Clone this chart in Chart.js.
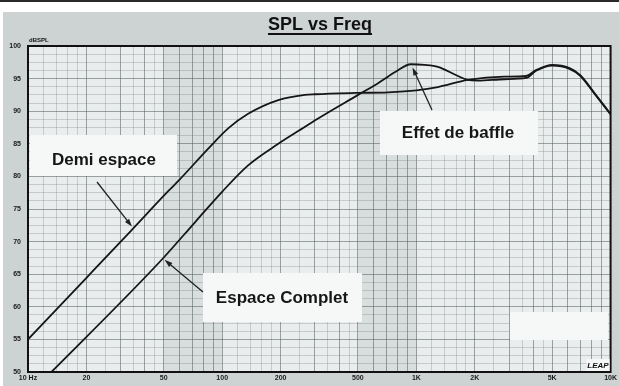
<!DOCTYPE html>
<html>
<head>
<meta charset="utf-8">
<script src="https://cdn.jsdelivr.net/npm/chart.js@4/dist/chart.umd.min.js"></script>
<style>
  html, body { margin: 0; padding: 0; background: #ffffff; overflow: hidden; }
  #wrap { position: relative; width: 619px; height: 386px; }
</style>
</head>
<body>
<div id="wrap"><canvas id="spl" width="619" height="386"></canvas></div>
<script>
// Half-space response (driver on an infinite baffle)
const demiFreq = [10, 20, 34, 53, 60.3, 85, 107.7, 136, 194.5, 267, 301, 484, 714, 1000, 1291, 1841, 2838, 3680, 4130, 5000, 6150, 7000, 8300, 10000];
const demiSpl  = [55.0, 64.45, 71.7, 77.8, 79.5, 84.3, 87.4, 89.6, 91.7, 92.5, 92.6, 92.8, 92.9, 93.2, 93.7, 94.8, 95.3, 95.4, 96.3, 97.1, 96.6, 95.5, 92.7, 89.6];

// Full-space response (free field, showing the baffle step)
const completFreq = [10, 13.2, 48.4, 72.6, 99.6, 136, 194.5, 267, 301, 501, 635, 714, 777, 937, 1100, 1291, 1637, 1841, 2070, 2838, 3680, 4130, 5000, 6150, 7000, 8300, 10000];
const completSpl  = [46.4, 50.0, 67.1, 73.0, 77.6, 81.7, 85.0, 87.6, 88.6, 92.5, 94.3, 95.3, 96.0, 97.2, 97.1, 96.8, 95.4, 94.8, 94.7, 94.9, 95.1, 96.2, 97.0, 96.5, 95.4, 92.6, 89.5];

// Frequency axis: labelled decades and the printed grid divisions
const freqLabels = { 10: '10 Hz', 20: '20', 50: '50', 100: '100', 200: '200', 500: '500', 1000: '1K', 2000: '2K', 5000: '5K', 10000: '10K' };
const freqGrid = [10, 12, 14, 16, 18, 20, 25, 30, 35, 40, 45, 50, 60, 70, 80, 90,
                  100, 120, 140, 160, 180, 200, 250, 300, 350, 400, 450, 500, 600, 700, 800, 900,
                  1000, 1200, 1400, 1600, 1800, 2000, 2500, 3000, 3500, 4000, 4500, 5000, 6000, 7000, 8000, 9000, 10000];
// Level axis: labelled every 5 dB, grid every 1.25 dB
const splLabels = [50, 55, 60, 65, 70, 75, 80, 85, 90, 95, 100];
const splGrid = [];
for (let v = 50; v <= 100.001; v += 1.25) splGrid.push(Math.round(v * 100) / 100);

const FONT = '"Liberation Sans", Arial, sans-serif';

const isMainFreq = v => {
  const m = v / Math.pow(10, Math.floor(Math.log10(v) + 1e-9));
  return Math.abs(m - Math.round(m)) < 1e-6;
};

// Panel, plot background and shaded bands
const backdrop = {
  id: 'backdrop',
  beforeDraw(chart) {
    const { ctx, chartArea: a, scales: { x } } = chart;
    ctx.save();
    ctx.fillStyle = '#ffffff';
    ctx.fillRect(0, 0, chart.width, chart.height);
    ctx.fillStyle = '#2a2a2a';
    ctx.fillRect(0, 0, chart.width, 2);
    ctx.fillStyle = '#cdd3d2';
    ctx.fillRect(3, 12, chart.width - 3, chart.height - 12);
    ctx.fillStyle = '#eaeded';
    ctx.fillRect(a.left, a.top, a.right - a.left, a.bottom - a.top);
    ctx.fillStyle = 'rgba(130,140,140,0.17)';
    [[50, 100], [500, 1000]].forEach(([f0, f1]) => {
      const x0 = x.getPixelForValue(f0), x1 = x.getPixelForValue(f1);
      ctx.fillRect(x0, a.top, x1 - x0, a.bottom - a.top);
    });
    ctx.restore();
  }
};

// Title, frame, captions and arrows
const notes = {
  id: 'notes',
  afterDatasetsDraw(chart) {
    const { ctx, chartArea: a, scales: { x, y } } = chart;
    ctx.save();

    // frame
    ctx.strokeStyle = '#111';
    ctx.lineWidth = 2;
    ctx.strokeRect(a.left, a.top, a.right - a.left, a.bottom - a.top);

    // title
    ctx.fillStyle = '#111';
    ctx.font = 'bold 18px ' + FONT;
    ctx.textAlign = 'center';
    ctx.textBaseline = 'alphabetic';
    const title = 'SPL vs Freq';
    const tw = ctx.measureText(title).width;
    ctx.fillText(title, 320, 30);
    ctx.fillRect(320 - tw / 2, 33, tw, 2);

    // unit caption
    ctx.font = 'bold 6px ' + FONT;
    ctx.textAlign = 'left';
    ctx.fillText('dBSPL', 29, 42);

    // caption boxes
    const boxes = [
      { x0: 30, y0: 135, x1: 177, y1: 176, text: 'Demi espace', tx: 104, ty: 160 },
      { x0: 380, y0: 111, x1: 538, y1: 155, text: 'Effet de baffle', tx: 458, ty: 133 },
      { x0: 203, y0: 273, x1: 362, y1: 322, text: 'Espace Complet', tx: 282, ty: 298 },
      { x0: 510, y0: 312, x1: 608, y1: 340, text: '', tx: 0, ty: 0 }
    ];
    ctx.font = 'bold 17px ' + FONT;
    ctx.textAlign = 'center';
    ctx.textBaseline = 'middle';
    boxes.forEach(b => {
      ctx.fillStyle = '#f6f7f7';
      ctx.fillRect(b.x0, b.y0, b.x1 - b.x0, b.y1 - b.y0);
      if (b.text) {
        ctx.fillStyle = '#161616';
        ctx.fillText(b.text, b.tx, b.ty);
      }
    });

    // arrows: tail in pixels, head on the curve in data units
    const arrows = [
      { tx: 97, ty: 182, f: 34.3, db: 72.3 },
      { tx: 203, ty: 292, f: 50.5, db: 67.2 },
      { tx: 432, ty: 110, f: 955, db: 96.7 }
    ];
    ctx.strokeStyle = '#222';
    ctx.fillStyle = '#222';
    ctx.lineWidth = 1.3;
    arrows.forEach(r => {
      const hx = x.getPixelForValue(r.f), hy = y.getPixelForValue(r.db);
      const ang = Math.atan2(hy - r.ty, hx - r.tx);
      ctx.beginPath();
      ctx.moveTo(r.tx, r.ty);
      ctx.lineTo(hx - 5 * Math.cos(ang), hy - 5 * Math.sin(ang));
      ctx.stroke();
      ctx.beginPath();
      ctx.moveTo(hx, hy);
      ctx.lineTo(hx - 8 * Math.cos(ang) + 2.6 * Math.sin(ang), hy - 8 * Math.sin(ang) - 2.6 * Math.cos(ang));
      ctx.lineTo(hx - 8 * Math.cos(ang) - 2.6 * Math.sin(ang), hy - 8 * Math.sin(ang) + 2.6 * Math.cos(ang));
      ctx.closePath();
      ctx.fill();
    });

    // software mark
    ctx.fillStyle = '#f6f7f7';
    ctx.fillRect(a.right - 24, a.bottom - 13, 23, 12);
    ctx.fillStyle = '#111';
    ctx.font = 'italic bold 8px ' + FONT;
    ctx.textAlign = 'right';
    ctx.textBaseline = 'alphabetic';
    ctx.fillText('LEAP', a.right - 2, a.bottom - 4);
    ctx.restore();
  }
};

new Chart(document.getElementById('spl'), {
  type: 'line',
  data: {
    datasets: [
      {
        label: 'Demi espace',
        data: demiFreq.map((f, i) => ({ x: f, y: demiSpl[i] })),
        borderColor: '#161616',
        borderWidth: 1.8,
        pointRadius: 0,
        cubicInterpolationMode: 'monotone'
      },
      {
        label: 'Espace Complet',
        data: completFreq.map((f, i) => ({ x: f, y: completSpl[i] })),
        borderColor: '#161616',
        borderWidth: 1.8,
        pointRadius: 0,
        cubicInterpolationMode: 'monotone'
      }
    ]
  },
  options: {
    responsive: false,
    animation: false,
    devicePixelRatio: 1,
    layout: { padding: { top: 46, right: 6, left: 0, bottom: 0 } },
    plugins: { legend: { display: false }, tooltip: { enabled: false }, title: { display: false } },
    scales: {
      x: {
        type: 'logarithmic',
        min: 10,
        max: 10000,
        afterBuildTicks: s => { s.ticks = freqGrid.map(v => ({ value: v })); },
        afterFit: s => { s.height = 14; },
        ticks: {
          autoSkip: false,
          maxRotation: 0,
          padding: 2,
          color: '#1a1a1a',
          font: { family: FONT, size: 7, weight: 'bold' },
          callback: v => freqLabels[v] || ''
        },
        grid: {
          drawTicks: false,
          lineWidth: 1,
          color: c => isMainFreq(c.tick.value) ? 'rgba(85,92,92,0.55)' : 'rgba(120,128,128,0.32)'
        },
        border: { display: false }
      },
      y: {
        type: 'linear',
        min: 50,
        max: 100,
        afterBuildTicks: s => { s.ticks = splGrid.map(v => ({ value: v })); },
        afterFit: s => { s.width = 28; },
        ticks: {
          autoSkip: false,
          padding: 7,
          color: '#1a1a1a',
          font: { family: FONT, size: 7, weight: 'bold' },
          callback: v => splLabels.includes(v) ? String(v) : ''
        },
        grid: {
          drawTicks: false,
          lineWidth: 1,
          color: c => splLabels.includes(c.tick.value) ? 'rgba(85,92,92,0.55)' : 'rgba(120,128,128,0.32)'
        },
        border: { display: false }
      }
    }
  },
  plugins: [backdrop, notes]
});
</script>
</body>
</html>
